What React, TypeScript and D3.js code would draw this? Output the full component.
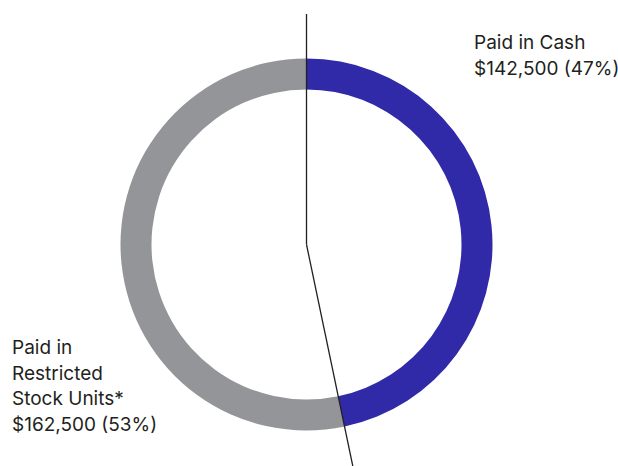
import React from "react";
import * as d3 from "d3";

const categories = ["Paid in Cash", "Paid in Restricted Stock Units*"];
const values = [142500, 162500];
const colors = ["#302AA8", "#939598"];
const labelCash = ["Paid in Cash", "$142,500 (47%)"];
const labelRsu = ["Paid in", "Restricted", "Stock Units*", "$162,500 (53%)"];

export default function App() {
  const W = 618, H = 466;
  const cx = 306.5, cy = 244.5;
  const outerR = 186, innerR = 155;
  const pie = d3.pie<number>().sort(null).value((d) => d);
  const arcs = pie(values);
  const arc = d3.arc<d3.PieArcDatum<number>>().innerRadius(innerR).outerRadius(outerR);
  const splitAngle = arcs[0].endAngle;
  const farR = 235;
  const x2 = cx + Math.sin(splitAngle) * farR;
  const y2 = cy - Math.cos(splitAngle) * farR;
  const font = "Inter, 'Liberation Sans', Arial, sans-serif";
  const fs = 19;
  return (
    <svg width={W} height={H} style={{ position: "absolute", left: 0, top: 0, background: "#fff" }}>
      <g transform={`translate(${cx},${cy})`}>
        {arcs.map((a, i) => (
          <path key={categories[i]} d={arc(a) || ""} fill={colors[i]} />
        ))}
      </g>
      <line x1={cx} y1={14} x2={cx} y2={cy} stroke="#231f20" strokeWidth={1.3} />
      <line x1={cx} y1={cy} x2={x2} y2={y2} stroke="#231f20" strokeWidth={1.3} />
      <g fontFamily={font} fontSize={fs} fill="#231f20">
        {labelCash.map((t, i) => (
          <text key={t} x={474} y={49 + i * 26}>{t}</text>
        ))}
        {labelRsu.map((t, i) => (
          <text key={t} x={12} y={354 + i * 25.5}>{t}</text>
        ))}
      </g>
    </svg>
  );
}
